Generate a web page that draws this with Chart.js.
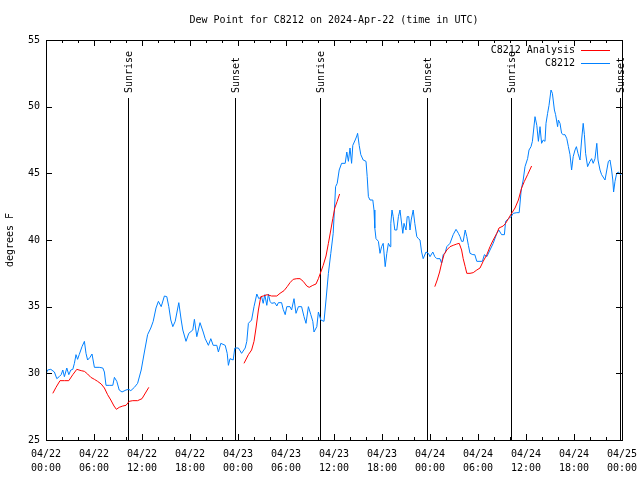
<!DOCTYPE html>
<html lang="en">
<head>
<meta charset="UTF-8" />
<title>Dew Point for C8212</title>
<script src="https://cdn.jsdelivr.net/npm/chart.js"></script>
<style>
  html, body { margin: 0; padding: 0; background: #fff; }
</style>
</head>
<body>
<canvas id="dewChart" width="640" height="480"></canvas>
<script>
// hours since 04/22 00:00 UTC
const stationHours = [0.05,0.2,0.6,1.05,1.35,1.65,1.9,2.1,2.3,2.6,2.85,3.1,3.35,3.55,3.75,3.95,4.15,4.5,4.8,5.0,5.2,5.5,5.75,6.05,6.65,7.1,7.3,7.5,7.9,8.35,8.55,8.85,9.15,9.5,10.0,10.35,10.6,11.05,11.45,11.9,12.3,12.7,13.1,13.4,13.75,14.05,14.4,14.8,15.1,15.35,15.6,15.85,16.15,16.6,16.9,17.1,17.5,17.85,18.35,18.55,18.85,19.25,19.65,19.9,20.3,20.6,20.9,21.35,21.55,21.85,22.4,22.65,22.8,23.0,23.4,23.6,24.05,24.45,24.9,25.1,25.3,25.7,26.0,26.35,26.6,26.95,27.15,27.35,27.6,27.8,28.0,28.2,28.6,28.85,29.05,29.45,29.65,29.9,30.1,30.5,30.7,31.0,31.25,31.55,31.95,32.25,32.5,32.8,33.1,33.35,33.5,33.85,34.05,34.35,34.75,35.0,35.3,35.6,35.9,36.2,36.4,36.65,36.95,37.4,37.6,37.8,38.0,38.2,38.35,38.65,38.85,38.95,39.15,39.35,39.65,40.0,40.15,40.3,40.5,40.85,41.0,41.1,41.25,41.55,41.75,41.95,42.15,42.4,42.6,42.8,43.0,43.1,43.25,43.4,43.6,43.85,44.05,44.25,44.4,44.6,44.75,45.0,45.15,45.35,45.5,45.65,45.9,46.1,46.35,46.55,46.75,46.95,47.15,47.5,47.8,48.0,48.35,48.6,48.85,49.25,49.45,49.65,49.9,50.1,50.5,50.9,51.25,51.55,51.75,51.95,52.15,52.4,52.6,52.8,53.0,53.35,53.6,53.85,54.25,54.55,54.8,55.1,55.5,55.9,56.35,56.6,56.95,57.3,57.45,57.8,58.15,58.4,58.85,59.15,59.4,59.65,59.875,60.2,60.375,60.625,60.8,60.95,61.125,61.35,61.55,61.75,61.95,62.15,62.375,62.5,62.7,62.875,63.125,63.3,63.4,63.55,63.7,63.95,64.05,64.25,64.45,64.65,64.875,65.1,65.3,65.5,65.7,65.9,66.125,66.3,66.5,66.75,66.95,67.15,67.3,67.45,67.7,68.0,68.2,68.4,68.625,68.85,69.0,69.25,69.45,69.875,70.1,70.3,70.5,70.7,70.85,70.95,71.125,71.33,71.55,71.8,72.0];
const stationDew = [30.0,30.25,30.3,30.1,29.6,29.75,29.9,30.25,29.75,30.4,29.9,30.25,30.3,30.75,31.4,31.05,31.4,32.0,32.4,31.5,31.0,31.2,31.45,30.45,30.45,30.4,30.1,29.1,29.1,29.1,29.7,29.4,28.75,28.6,28.75,28.8,28.7,28.95,29.25,30.25,31.6,32.9,33.4,33.9,34.9,35.4,35.0,35.8,35.75,35.0,34.0,33.5,33.9,35.3,34.0,33.25,32.4,33.0,33.25,34.05,32.75,33.8,33.1,32.6,32.1,32.6,32.1,32.1,31.6,32.25,32.1,31.5,30.6,31.1,31.0,31.9,31.9,31.5,31.9,32.4,33.75,34.0,35.0,35.95,35.6,35.75,35.25,35.9,35.1,35.95,35.4,35.25,35.3,35.05,35.3,35.3,34.8,34.4,35.0,35.0,34.75,35.6,34.5,35.0,35.0,34.25,33.75,35.0,34.4,33.9,33.1,33.5,34.6,34.0,33.9,35.5,37.5,39.0,40.5,44.0,44.25,45.25,45.75,45.75,46.6,45.9,46.9,45.75,47.1,47.5,47.8,48.0,47.1,46.4,46.0,45.9,44.75,43.25,43.0,43.0,42.25,40.9,40.1,39.9,39.0,39.5,39.75,38.0,39.0,39.75,39.5,41.25,42.25,41.75,40.75,40.75,41.75,42.25,41.5,40.5,41.25,40.75,41.75,41.75,40.75,41.5,42.25,41.25,40.25,40.1,40.0,39.1,38.6,39.1,39.0,38.75,39.1,38.75,38.6,38.6,38.25,38.9,39.05,39.5,39.75,40.4,40.8,40.5,40.25,39.9,39.9,40.75,40.25,39.6,39.0,38.9,38.9,38.4,38.4,38.4,38.9,38.75,39.25,39.75,40.5,40.75,40.4,40.4,41.4,41.6,41.75,42.0,42.05,42.05,43.75,44.5,45.5,46.1,46.75,47.0,47.4,48.25,49.25,48.6,47.4,48.5,47.25,47.5,47.4,48.75,49.5,50.1,51.25,51.0,50.5,49.75,49.4,48.5,49.0,48.75,48.0,47.9,47.9,47.6,47.0,46.4,45.25,46.25,46.75,47.0,46.5,46.0,47.5,48.75,47.9,46.5,45.5,45.9,46.1,45.75,46.1,47.25,46.0,45.25,44.9,44.5,45.25,45.9,46.0,45.25,44.5,43.6,44.4,45.0,45.1,44.9,45.0];

// three analysis runs, separated by gaps (null)
const analysisHours = [0.85,1.25,1.75,2.3,2.85,3.35,3.85,4.4,4.8,5.2,5.6,6.05,6.45,6.9,7.3,7.7,8.1,8.5,8.8,9.15,9.6,10.0,10.4,10.85,11.45,12.0,12.5,12.85,18,24.75,25.3,25.7,26.0,26.25,26.55,26.85,27.15,27.65,28.2,28.85,29.25,29.75,30.15,30.5,30.9,31.35,31.75,32.15,32.6,32.9,33.35,33.75,34.05,34.35,34.65,35.0,35.3,35.6,35.85,36.1,36.4,36.7,42,48.6,48.9,49.2,49.45,49.75,50.1,50.5,50.9,51.35,51.65,51.95,52.15,52.4,52.6,53.0,53.4,53.85,54.25,54.65,55.1,55.5,55.9,56.35,56.625,57.15,57.45,57.8,58.2,58.625,59.05,59.45,59.8,60.2,60.7];
const analysisDew = [28.5,28.95,29.45,29.45,29.45,29.9,30.3,30.2,30.15,29.95,29.7,29.55,29.4,29.2,28.9,28.4,28.0,27.55,27.3,27.45,27.55,27.6,27.9,27.95,27.95,28.1,28.6,28.95,null,30.75,31.4,31.75,32.4,33.4,34.75,35.75,35.8,35.9,35.8,35.8,36.0,36.2,36.5,36.8,37.05,37.1,37.1,36.9,36.55,36.45,36.6,36.7,37.1,37.6,38.1,38.8,39.75,40.75,41.6,42.4,42.9,43.45,null,36.5,37.0,37.6,38.25,38.9,39.25,39.5,39.6,39.7,39.75,39.25,38.6,38.0,37.5,37.5,37.55,37.75,37.9,38.4,38.9,39.5,40.0,40.5,40.9,41.05,41.25,41.6,42.0,42.4,43.0,43.9,44.4,44.9,45.55];

const tickDates = ['04/22','04/22','04/22','04/22','04/23','04/23','04/23','04/23','04/24','04/24','04/24','04/24','04/25'];
const tickTimes = ['00:00','06:00','12:00','18:00','00:00','06:00','12:00','18:00','00:00','06:00','12:00','18:00','00:00'];

const sunEvents = ['Sunrise','Sunset','Sunrise','Sunset','Sunrise','Sunset'];
const sunHours = [10.28,23.67,34.27,47.68,58.15,71.72];

const FONT = '10px "DejaVu Sans Mono"';

const gnuFrame = {
  id: 'gnuFrame',
  beforeDatasetsDraw(chart) {
    const { ctx, chartArea: a, scales: { x } } = chart;
    ctx.save();
    ctx.strokeStyle = '#000';
    ctx.fillStyle = '#000';
    ctx.lineWidth = 1;
    ctx.font = FONT;
    sunHours.forEach((h, i) => {
      const px = Math.round(x.getPixelForValue(h)) + 0.5;
      ctx.beginPath();
      ctx.moveTo(px, a.top + 58);
      ctx.lineTo(px, a.bottom);
      ctx.stroke();
      ctx.save();
      ctx.translate(px + 1, a.top + 53);
      ctx.rotate(-Math.PI / 2);
      ctx.textAlign = 'left';
      ctx.textBaseline = 'middle';
      ctx.fillText(sunEvents[i], 0, 0);
      ctx.restore();
    });
    ctx.restore();
  },
  afterDraw(chart) {
    const { ctx, chartArea: a, scales: { x, y } } = chart;
    ctx.save();
    ctx.strokeStyle = '#000';
    ctx.fillStyle = '#000';
    ctx.lineWidth = 1;
    ctx.font = FONT;

    // border
    ctx.strokeRect(a.left + 0.5, a.top + 0.5, a.right - a.left, a.bottom - a.top);

    // ticks pointing inward
    ctx.beginPath();
    for (let h = 0; h <= 72; h += 2) {
      const px = Math.round(x.getPixelForValue(h)) + 0.5;
      const len = h % 6 === 0 ? 6 : 3;
      ctx.moveTo(px, a.bottom); ctx.lineTo(px, a.bottom - len);
      ctx.moveTo(px, a.top); ctx.lineTo(px, a.top + len);
    }
    for (let v = 25; v <= 55; v += 5) {
      const py = Math.round(y.getPixelForValue(v)) + 0.5;
      ctx.moveTo(a.left, py); ctx.lineTo(a.left + 6, py);
      ctx.moveTo(a.right, py); ctx.lineTo(a.right - 6, py);
    }
    ctx.stroke();

    // title
    ctx.textAlign = 'center';
    ctx.textBaseline = 'middle';
    ctx.fillText('Dew Point for C8212 on 2024-Apr-22 (time in UTC)', (a.left + a.right) / 2, 20);

    // y axis title
    ctx.save();
    ctx.translate(10, (a.top + a.bottom) / 2);
    ctx.rotate(-Math.PI / 2);
    ctx.fillText('degrees F', 0, 0);
    ctx.restore();

    // legend, gnuplot style (text then sample line)
    chart.data.datasets.forEach((ds, i) => {
      const ly = a.top + 10 + i * 13;
      ctx.textAlign = 'right';
      ctx.fillText(ds.label, a.right - 47, ly);
      ctx.strokeStyle = ds.borderColor;
      ctx.beginPath();
      ctx.moveTo(a.right - 41, Math.round(ly) + 0.5);
      ctx.lineTo(a.right - 12, Math.round(ly) + 0.5);
      ctx.stroke();
    });
    ctx.restore();
  }
};

new Chart(document.getElementById('dewChart'), {
  type: 'line',
  data: {
    datasets: [
      {
        label: 'C8212 Analysis',
        data: analysisHours.map((h, i) => ({ x: h, y: analysisDew[i] })),
        borderColor: '#ff0000',
        borderWidth: 1,
        pointRadius: 0,
        spanGaps: false
      },
      {
        label: 'C8212',
        data: stationHours.map((h, i) => ({ x: h, y: stationDew[i] })),
        borderColor: '#0080ff',
        borderWidth: 1,
        pointRadius: 0
      }
    ]
  },
  options: {
    responsive: false,
    animation: false,
    devicePixelRatio: 1,
    layout: { padding: { left: 0, right: 18, top: 40, bottom: 0 } },
    plugins: {
      legend: { display: false },
      title: { display: false },
      tooltip: { enabled: false }
    },
    scales: {
      x: {
        type: 'linear',
        min: 0,
        max: 72,
        grid: { display: false, drawTicks: false },
        border: { display: false },
        ticks: {
          stepSize: 6,
          autoSkip: false,
          maxRotation: 0,
          padding: 7,
          color: '#000',
          font: { family: 'DejaVu Sans Mono', size: 10, lineHeight: 1.4 },
          callback: (v) => {
            const i = Math.round(v / 6);
            return [tickDates[i], tickTimes[i]];
          }
        },
        afterFit: (s) => {
          s.height = 40;
          s.paddingLeft = 0;
          s.paddingRight = 0;
        }
      },
      y: {
        min: 25,
        max: 55,
        grid: { display: false, drawTicks: false },
        border: { display: false },
        ticks: {
          stepSize: 5,
          padding: 6,
          color: '#000',
          font: { family: 'DejaVu Sans Mono', size: 10 }
        },
        afterFit: (s) => {
          s.width = 46;
          s.paddingTop = 0;
          s.paddingBottom = 0;
        }
      }
    }
  },
  plugins: [gnuFrame]
});
</script>
</body>
</html>
